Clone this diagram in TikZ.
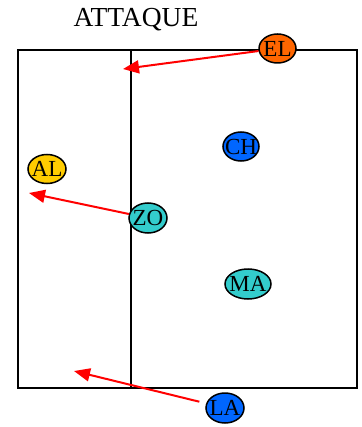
\documentclass[tikz,border=0pt]{standalone}
\usepackage{fontspec}
\setmainfont{Liberation Serif}
\usetikzlibrary{shapes.geometric,arrows.meta}
\definecolor{elorange}{HTML}{FF6600}
\definecolor{algold}{HTML}{FFCC00}
\definecolor{teal}{HTML}{33CCCC}
\definecolor{pblue}{HTML}{0066FF}
\definecolor{arrred}{HTML}{FF0000}
\newcommand{\plabel}[1]{\makebox[0pt]{\raisebox{-0.33em}[0pt][0pt]{#1}}}
\tikzset{
  player/.style={ellipse, draw=black, line width=1.5pt, inner sep=0pt,
    minimum width=37pt, minimum height=29pt, font=\fontsize{23}{23}\selectfont},
  move/.style={draw=arrred, line width=2pt, -{Triangle[length=16pt,width=13pt]}},
  field/.style={draw=black, line width=2pt}
}
\begin{document}
\begin{tikzpicture}[x=1pt,y=-1pt]
\useasboundingbox (0,0) rectangle (361,427);
\draw[field] (18,50) rectangle (357,388);
\draw[field] (131,50) -- (131,388);
\node[font=\fontsize{27.5}{27.5}\selectfont] (title) at (136,20) {ATTAQUE};
\coordinate (t1) at (123,69);
\coordinate (t2) at (29,193);
\coordinate (t3) at (74,371);
\node[player, fill=elorange] (EL) at (277.5,48.5) {\plabel{EL}};
\node[player, fill=algold, minimum width=38pt] (AL) at (47,169) {\plabel{AL}};
\node[player, fill=pblue, minimum width=36pt] (CH) at (241,146.5) {\plabel{CH}};
\node[player, fill=teal, minimum width=38pt, minimum height=30pt] (ZO) at (148,218) {\plabel{ZO}};
\node[player, fill=teal, minimum width=46pt, minimum height=30pt] (MA) at (248,284) {\plabel{MA}};
\node[player, fill=pblue, minimum width=38pt, minimum height=30pt] (LA) at (225,408) {\plabel{LA}};
\draw[move] (EL) -- (t1);
\draw[move] (ZO) -- (t2);
\draw[move, shorten <=7pt] (LA) -- (t3);
\end{tikzpicture}
\end{document}
